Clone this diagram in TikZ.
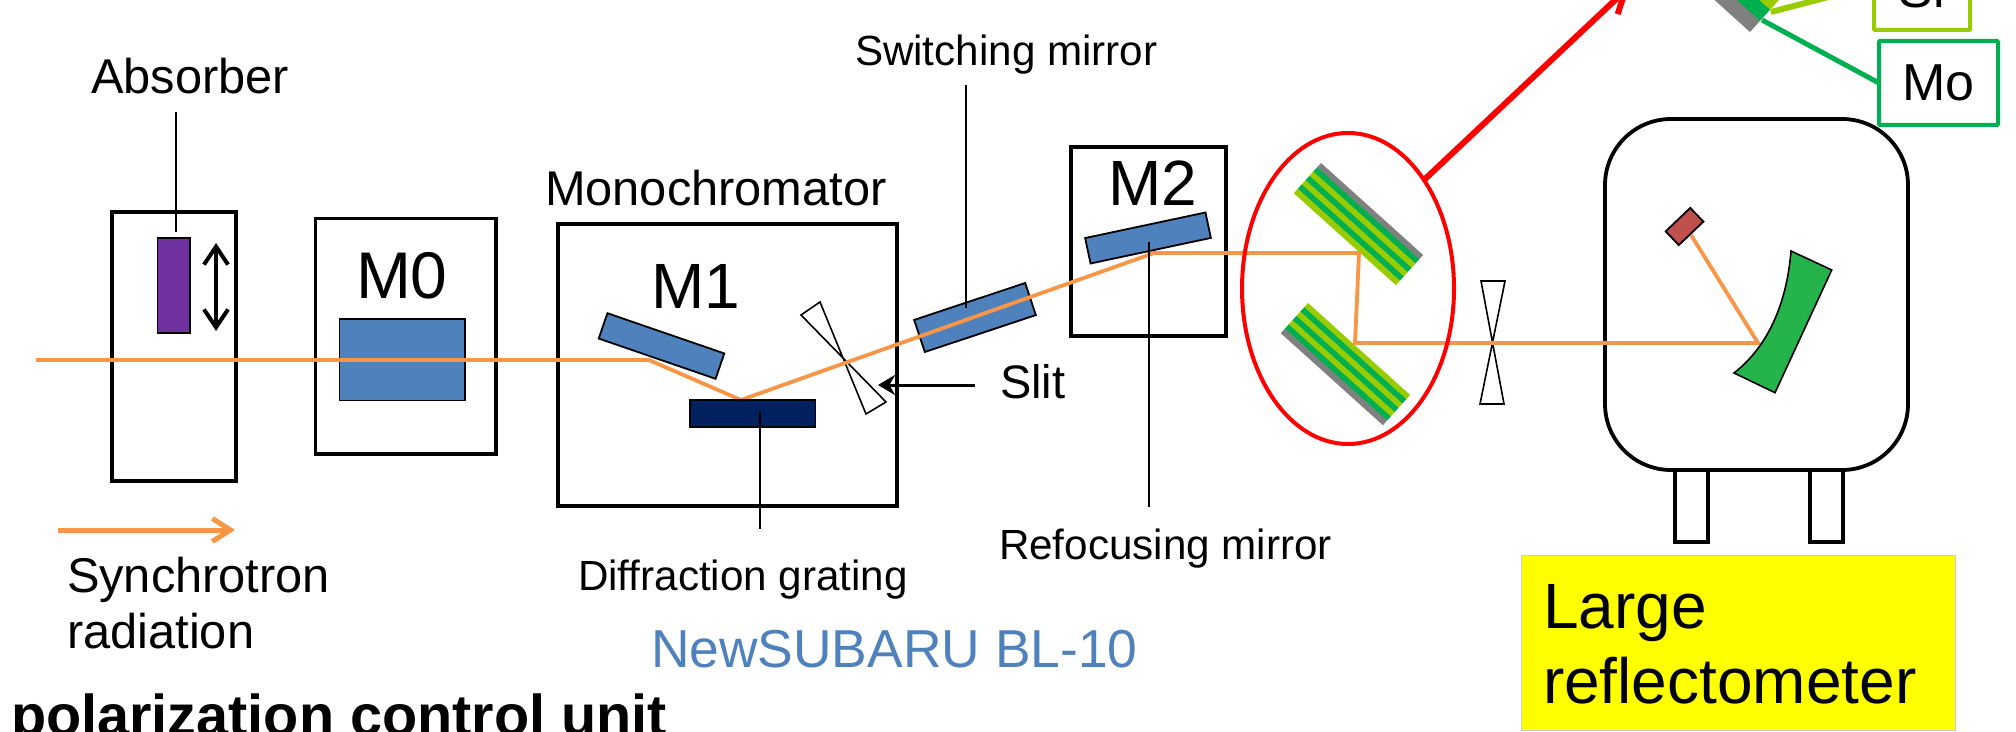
\documentclass[tikz,border=0pt]{standalone}
\usepackage{fontspec}
\setmainfont{Liberation Sans}
\usetikzlibrary{arrows.meta,shapes.geometric}

\definecolor{beamorange}{HTML}{F79646}
\definecolor{mirrorblue}{HTML}{4F81BD}
\definecolor{gratingblue}{HTML}{002060}
\definecolor{absorberpurple}{HTML}{7030A0}
\definecolor{samplered}{HTML}{C0504D}
\definecolor{optgreen}{HTML}{25B34C}
\definecolor{mogreen}{HTML}{00B050}
\definecolor{silime}{HTML}{99CC00}
\definecolor{subgray}{HTML}{808080}
\definecolor{tagyellow}{RGB}{255,255,0}
\definecolor{ringred}{RGB}{255,0,0}

\tikzset{
  box/.style={draw, line width=1.75pt, inner sep=0pt, outer sep=0pt, fill=white},
  optic/.style={draw, line width=0.9pt, inner sep=0pt, outer sep=0pt, fill=mirrorblue},
  slitshape/.style={draw, line width=0.8pt, fill=white},
  beam/.style={beamorange, line width=1.9pt},
  leader/.style={line width=1pt},
  txt/.style={inner sep=0pt, outer sep=0pt, anchor=base west, align=left},
  small/.style={txt, font=\fontsize{21.1}{25}\selectfont},
  medium/.style={txt, font=\fontsize{24.4}{28.2}\selectfont},
  big/.style={txt, font=\fontsize{32}{38}\selectfont}
}

\newcommand{\layerstack}[5]{
  \begin{scope}[shift={#1}, rotate=#2]
    \foreach \c [count=\i from 0] in {#5}
      \fill[\c] (0,{\i*#3}) rectangle (#4,{(\i+1)*#3+0.3});
  \end{scope}
}

\begin{document}
\begin{tikzpicture}[x=0.5pt, y=-0.5pt]
  \clip (0,0) rectangle (2016,732);
  \fill[white] (0,0) rectangle (2016,732);

  % enclosures
  \node[box, minimum width=62pt, minimum height=134.5pt] (absorberbox) at (174,346.5) {};
  \node[box, minimum width=90.25pt, minimum height=117.75pt] (mzerobox) at (405.75,336.25) {};
  \node[box, minimum width=169.5pt, minimum height=141pt] (monobox) at (727.5,365) {};
  \node[box, minimum width=77.5pt, minimum height=94.5pt] (mtwobox) at (1148.5,241.5) {};

  % reflectometer chamber
  \foreach \x/\n in {1691.5/a,1826.5/b}
    \node[box, line width=1.9pt, minimum width=16.5pt, minimum height=36pt] (leg\n) at (\x,506) {};
  \node[box, line width=1.9pt, rounded corners=33pt, minimum width=151.5pt, minimum height=175.5pt] (chamber) at (1756.5,294.5) {};

  % optics under the beam
  \node[draw, line width=0.9pt, fill=absorberpurple, inner sep=0pt, minimum width=16.25pt, minimum height=47.5pt] (absorber) at (173.75,285.5) {};
  \node[optic, minimum width=62.75pt, minimum height=40.75pt] (mzero) at (402.25,359.75) {};
  \node[optic, rotate=18.4, minimum width=58.5pt, minimum height=16.9pt] (switchmirror) at (975,317.5) {};

  % slits
  \draw[slitshape] (801,315) -- (820,302) -- (866,414) -- (886,402) -- cycle;
  \draw[slitshape] (1481,281) -- (1505,281) -- (1480,404) -- (1504,404) -- cycle;

  % multilayer mirrors
  \layerstack{(1321,163)}{-42}{5.77}{137.4}{subgray,mogreen,silime,mogreen,silime,mogreen,silime}
  \layerstack{(1308,303)}{-42}{5.77}{137.4}{silime,mogreen,silime,mogreen,silime,mogreen,subgray}
  \layerstack{(1750,32)}{138}{15}{200}{subgray,mogreen,silime,mogreen,silime}

  % beam path
  \coordinate (bstart) at (36,360);
  \coordinate (bone) at (649,360);
  \coordinate (btwo) at (741,400);
  \coordinate (bthree) at (1154,253);
  \coordinate (bfour) at (1359,253);
  \coordinate (bfive) at (1355,343);
  \coordinate (bsix) at (1758,343);
  \coordinate (bseven) at (1691,235);
  \draw[beam, line join=miter] (bstart) -- (bone) -- (btwo) -- (bthree) -- (bfour) -- (bfive) -- (bsix) -- (bseven);

  % optics over the beam
  \node[optic, rotate=-19, minimum width=61.8pt, minimum height=13.4pt] (mone) at (661.5,346) {};
  \node[optic, fill=gratingblue, minimum width=62.75pt, minimum height=13.5pt] (grating) at (752.75,413.5) {};
  \node[optic, rotate=12, minimum width=61.5pt, minimum height=13pt] (mtwo) at (1148,238) {};
  \node[draw, line width=0.9pt, fill=samplered, inner sep=0pt, rotate=43.7, minimum width=17pt, minimum height=9.5pt] (sample) at (1684.5,226.5) {};
  \draw[line width=0.8pt, fill=optgreen] (1791,251) .. controls (1787,300) and (1770,345) .. (1734,373) -- (1775,392.7) -- (1831.7,270) -- cycle;

  % red ring
  \node[draw=ringred, ellipse, line width=2pt, inner sep=0pt, outer sep=0pt, minimum width=106pt, minimum height=155.5pt] (ring) at (1348,288.5) {};
  \coordinate (zoomtip) at (1630,-14);
  \draw[ringred, line width=3pt, -{Straight Barb[length=11pt, width=12pt]}] (ring.55) -- (zoomtip);

  % material boxes
  \node[small, anchor=base] (sitext) at (1922,8) {\fontsize{26}{30}\selectfont Si};
  \node[box, line width=2pt, fill=none, draw=silime, rounded corners=0.5pt, minimum width=48pt, minimum height=45pt] (sibox) at (1922,-15) {};
  \node[box, line width=2pt, draw=mogreen, rounded corners=0.5pt, minimum width=59.5pt, minimum height=42pt, font=\fontsize{26}{30}\selectfont] (mobox) at (1938.5,83) {Mo};
  \coordinate (silayer) at (1771,12);
  \coordinate (molayer) at (1762,20);
  \draw[silime, line width=3pt] (silayer) -- (sibox.west);
  \draw[mogreen, line width=2.5pt] (molayer) -- (mobox.west);

  % labels and leaders
  \node[medium] (absorbertext) at (91,94) {Absorber};
  \node[big, font=\fontsize{33}{38}\selectfont] (mzerotext) at (356,299) {M0};
  \node[medium] (monotext) at (545,206) {Monochromator};
  \node[big] (monetext) at (651,309) {M1};
  \node[big] (mtwotext) at (1108,206) {M2};
  \node[small] (switchtext) at (855,66) {Switching mirror};
  \node[small] (refocustext) at (999,559) {Refocusing mirror};
  \node[small] (gratingtext) at (578,590) {Diffraction grating};
  \node[medium, font=\fontsize{23.5}{28}\selectfont] (slittext) at (1000,398) {Slit};
  \node[medium] (srtext) at (67,592.5) {Synchrotron};
  \node[medium] (radtext) at (67,648) {radiation};
  \node[txt, text=mirrorblue, font=\fontsize{26.7}{32}\selectfont] (blname) at (651,667) {NewSUBARU BL-10};
  \node[txt, font=\fontsize{28.8}{34}\selectfont\bfseries] (unittext) at (11,735) {polarization control unit};

  \node[draw=black!20, line width=0.6pt, fill=tagyellow, inner sep=0pt, outer sep=0pt, minimum width=217pt, minimum height=87.15pt] (yellowbox) at (1738.7,643) {};
  \node[txt, font=\fontsize{32}{38}\selectfont] (largetext) at (1543,628) {Large};
  \node[txt, font=\fontsize{32}{38}\selectfont] (reflecttext) at (1543,703) {reflectometer};

  \coordinate (absorbertop) at (176,112);
  \coordinate (absorberend) at (176,232);
  \coordinate (switchtop) at (966,85);
  \coordinate (switchend) at (966,308);
  \coordinate (gratingup) at (760,411);
  \coordinate (gratingdown) at (760,529);
  \coordinate (refocusup) at (1149,242);
  \coordinate (refocusdown) at (1149,507);
  \draw[leader] (absorbertop) -- (absorberend);
  \draw[leader] (switchtop) -- (switchend);
  \draw[leader] (gratingup) -- (gratingdown);
  \draw[leader] (refocusup) -- (refocusdown);

  % arrows
  \coordinate (movetop) at (216,243);
  \coordinate (movebot) at (216,331);
  \draw[line width=2pt, {Straight Barb[length=9pt, width=12pt]}-{Straight Barb[length=9pt, width=12pt]}] (movetop) -- (movebot);
  \coordinate (slitfrom) at (975,385);
  \coordinate (slitto) at (878,385);
  \draw[line width=1.5pt, -{Stealth[length=8.5pt, width=10pt]}] (slitfrom) -- (slitto);
  \coordinate (keyfrom) at (58,530);
  \coordinate (keyto) at (235,530);
  \draw[beamorange, line width=2.5pt, -{Straight Barb[length=9pt, width=11.5pt]}] (keyfrom) -- (keyto);
\end{tikzpicture}
\end{document}
